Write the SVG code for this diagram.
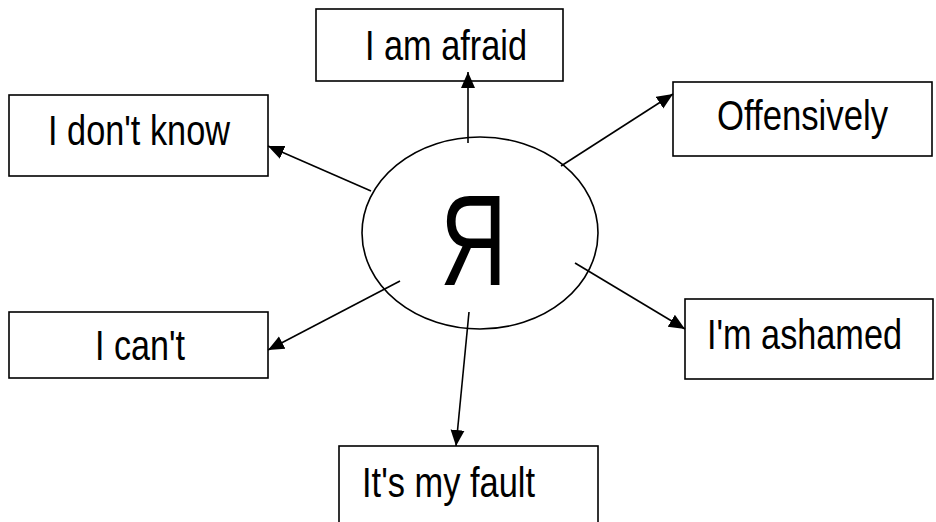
<svg xmlns="http://www.w3.org/2000/svg" width="936" height="522" viewBox="0 0 936 522">
<style>
.box{fill:#fff;stroke:#000;stroke-width:1.6}
.lbl{font-family:"Liberation Sans",Arial,sans-serif;font-size:42px;fill:#000}
.edge{stroke:#000;stroke-width:1.6;fill:none;marker-end:url(#ah)}
</style>
<defs>
<marker id="ah" markerUnits="userSpaceOnUse" markerWidth="16" markerHeight="16" viewBox="0 0 16 16" refX="16" refY="8" orient="auto">
<path d="M0,1 L16,8 L0,15 Z" fill="#000"/>
</marker>
</defs>
<rect width="936" height="522" fill="#fff"/>
<g id="center">
<ellipse cx="480" cy="233" rx="118" ry="96" fill="#fff" stroke="#000" stroke-width="1.6"/>
<text x="440" y="285" font-family="'Liberation Sans',Arial,sans-serif" font-size="130" textLength="67" lengthAdjust="spacingAndGlyphs">Я</text>
</g>
<g id="afraid">
<rect class="box" x="316" y="9" width="247" height="72"/>
<text class="lbl" x="365" y="60" textLength="162" lengthAdjust="spacingAndGlyphs">I am afraid</text>
</g>
<g id="dontknow">
<rect class="box" x="9" y="95" width="259" height="81"/>
<text class="lbl" x="48" y="145" textLength="182" lengthAdjust="spacingAndGlyphs">I don't know</text>
</g>
<g id="offensively">
<rect class="box" x="673" y="82" width="259" height="74"/>
<text class="lbl" x="717" y="130" textLength="171" lengthAdjust="spacingAndGlyphs">Offensively</text>
</g>
<g id="cant">
<rect class="box" x="9" y="312" width="259" height="66"/>
<text class="lbl" x="95" y="360" textLength="90" lengthAdjust="spacingAndGlyphs">I can't</text>
</g>
<g id="ashamed">
<rect class="box" x="685" y="299" width="248" height="80"/>
<text class="lbl" x="707" y="349" textLength="195" lengthAdjust="spacingAndGlyphs">I'm ashamed</text>
</g>
<g id="fault">
<rect class="box" x="339" y="446" width="259" height="90"/>
<text class="lbl" x="362" y="497" textLength="173" lengthAdjust="spacingAndGlyphs">It's my fault</text>
</g>
<g id="connectors">
<line class="edge" x1="468" y1="143" x2="468" y2="72"/>
<line class="edge" x1="371" y1="191" x2="268" y2="146"/>
<line class="edge" x1="561" y1="166" x2="673" y2="94"/>
<line class="edge" x1="400" y1="281" x2="268" y2="350"/>
<line class="edge" x1="575" y1="263" x2="685" y2="329"/>
<line class="edge" x1="469" y1="312" x2="456" y2="446"/>
</g>
</svg>
